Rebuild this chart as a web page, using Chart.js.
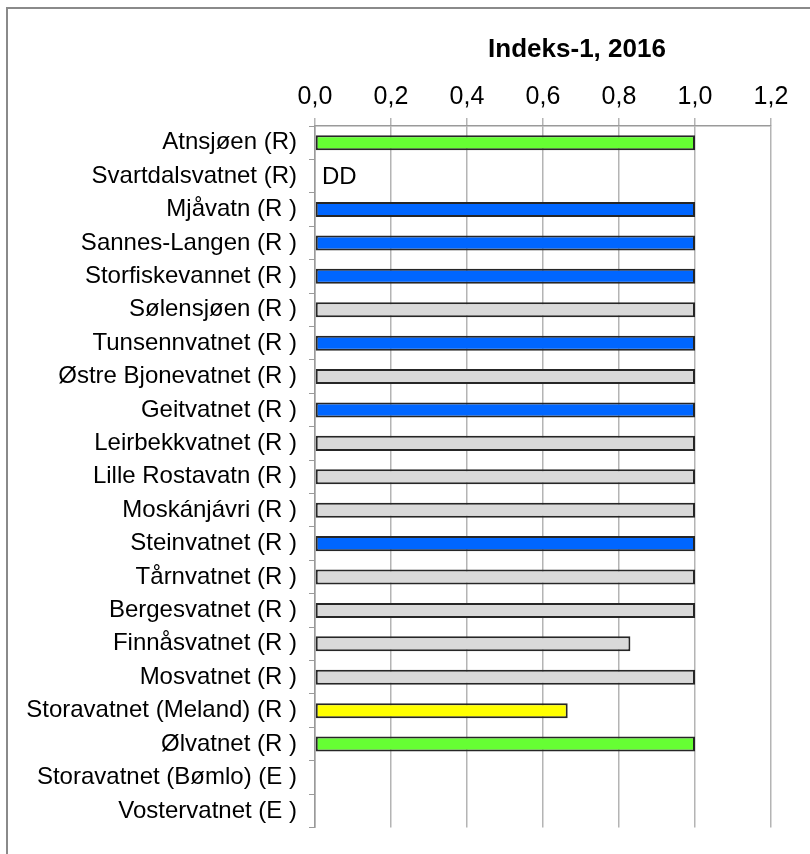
<!DOCTYPE html>
<html>
<head>
<meta charset="utf-8">
<script src="https://cdn.jsdelivr.net/npm/chart.js@4"></script>
<style>
  html, body { margin: 0; padding: 0; background: #fff; }
  #wrap { position: relative; width: 810px; height: 854px; overflow: hidden; }
  #frame { position: absolute; left: 6px; top: 7px; width: 900px; height: 900px; border: 2px solid #8a8a8a; box-sizing: border-box; }
  canvas { position: absolute; left: 0; top: 0; }
</style>
</head>
<body>
<div id="wrap">
  <div id="frame"></div>
  <canvas id="chart" width="810" height="854"></canvas>
</div>
<script>
(function(){

  const lakes = [
    'Atnsjøen (R)', 'Svartdalsvatnet (R)', 'Mjåvatn (R )', 'Sannes-Langen (R )',
    'Storfiskevannet (R )', 'Sølensjøen (R )', 'Tunsennvatnet (R )', 'Østre Bjonevatnet (R )',
    'Geitvatnet (R )', 'Leirbekkvatnet (R )', 'Lille Rostavatn (R )', 'Moskánjávri (R )',
    'Steinvatnet (R )', 'Tårnvatnet (R )', 'Bergesvatnet (R )', 'Finnåsvatnet (R )',
    'Mosvatnet (R )', 'Storavatnet (Meland) (R )', 'Ølvatnet (R )', 'Storavatnet (Bømlo) (E )',
    'Vostervatnet (E )'
  ];

  const index1 = [
    1.0, null, 1.0, 1.0,
    1.0, 1.0, 1.0, 1.0,
    1.0, 1.0, 1.0, 1.0,
    1.0, 1.0, 1.0, 0.83,
    1.0, 0.665, 1.0, null,
    null
  ];

  // class colour per lake
  const barColors = [
    '#66ff33', '#ffffff', '#0066ff', '#0066ff',
    '#0066ff', '#d9d9d9', '#0066ff', '#d9d9d9',
    '#0066ff', '#d9d9d9', '#d9d9d9', '#d9d9d9',
    '#0066ff', '#d9d9d9', '#d9d9d9', '#d9d9d9',
    '#d9d9d9', '#ffff00', '#66ff33', '#ffffff',
    '#ffffff'
  ];

  const notes = ['', 'DD', '', '', '', '', '', '', '', '', '', '', '', '', '', '', '', '', '', '', ''];

  const xTicks = [0, 0.2, 0.4, 0.6, 0.8, 1.0, 1.2];
  const chartTitle = 'Indeks-1, 2016';

  const fontFamily = '"Liberation Sans", Arial, sans-serif';

  // title + DD notes
  const extraText = {
    id: 'extraText',
    afterDraw(chart) {
      const ctx = chart.ctx;
      const x = chart.scales.x;
      const y = chart.scales.y;
      ctx.save();
      ctx.fillStyle = '#000';
      ctx.font = 'bold 26px ' + fontFamily;
      ctx.textAlign = 'center';
      ctx.textBaseline = 'middle';
      ctx.fillText(chartTitle, 577, 50);

      ctx.font = '24px ' + fontFamily;
      ctx.textAlign = 'left';
      notes.forEach((n, i) => {
        if (n) ctx.fillText(n, x.getPixelForValue(0) + 7, y.getPixelForValue(i) + 1);
      });
      ctx.restore();
    }
  };

  const context = document.querySelector('#chart').getContext('2d');

  new Chart(context, {
    type: 'bar',
    data: {
      labels: lakes,
      datasets: [{
        data: index1,
        backgroundColor: barColors,
        borderColor: '#262626',
        borderWidth: 2,
        borderSkipped: false,
        categoryPercentage: 1,
        barPercentage: 0.45
      }]
    },
    options: {
      indexAxis: 'y',
      responsive: false,
      animation: false,
      devicePixelRatio: 1,
      layout: { padding: { left: 0, right: 39, top: 0, bottom: 21 } },
      plugins: {
        legend: { display: false },
        title: { display: false },
        tooltip: { enabled: false }
      },
      scales: {
        x: {
          position: 'top',
          min: 0,
          max: 1.2,
          afterBuildTicks: (scale) => { scale.ticks = xTicks.map(v => ({ value: v })); },
          afterFit: (scale) => { scale.height = 126; },
          ticks: {
            color: '#000',
            font: { family: fontFamily, size: 25 },
            padding: 6,
            callback: (v) => Number(v).toFixed(1).replace('.', ',')
          },
          grid: { color: '#b4b4b4', lineWidth: 1.5, tickLength: 8 },
          border: { color: '#9a9a9a', width: 1.5 }
        },
        y: {
          afterFit: (scale) => { scale.width = 315; },
          ticks: {
            color: '#000',
            font: { family: fontFamily, size: 24 },
            padding: 12
          },
          grid: { offset: true, drawOnChartArea: false, color: '#9a9a9a', tickLength: 6 },
          border: { color: '#9a9a9a', width: 1.5 }
        }
      }
    },
    plugins: [extraText]
  });

})();
</script>
</body>
</html>
